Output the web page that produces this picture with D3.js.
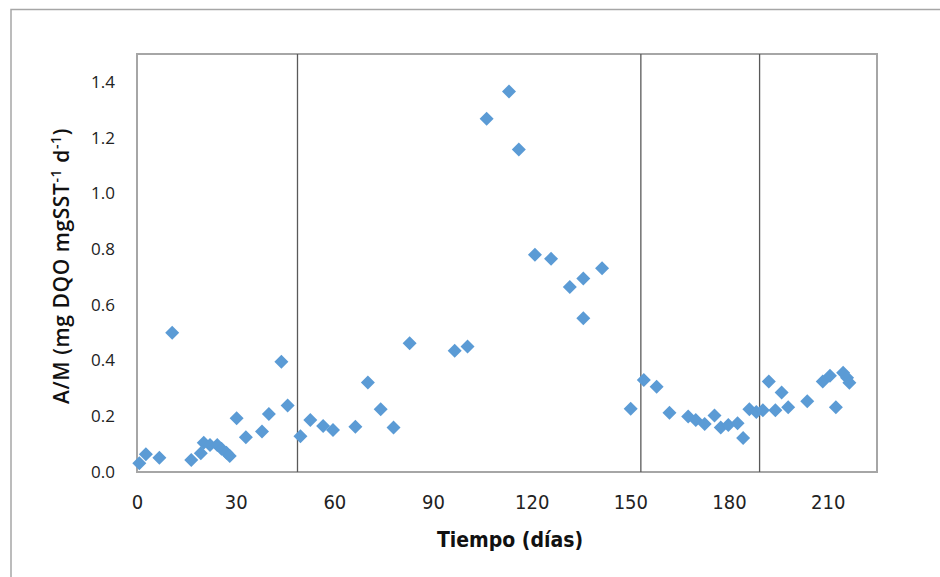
<!DOCTYPE html>
<html><head><meta charset="utf-8">
<script src="https://cdn.jsdelivr.net/npm/d3@7"></script>
<style>body{margin:0;background:#fff;} svg{display:block;}</style>
</head><body>
<script>
const days = [0.7,2.7,6.8,10.7,16.5,19.4,20.3,22.2,24.4,25.7,27.2,28.2,30.3,33.1,38,40.1,43.9,45.8,49.7,52.7,56.6,59.6,66.4,70.2,74.1,78,82.9,96.6,100.5,106.3,113.1,116.1,121,125.9,131.6,135.7,135.7,141.4,150.1,154.1,158,161.9,167.6,169.9,172.6,175.6,177.5,179.8,182.6,184.3,186.2,188.3,190.3,192.1,194.1,196,198,203.8,208.5,210.7,212.5,214.7,215.9,216.6];
const ratio = [0.031,0.064,0.051,0.50,0.043,0.067,0.105,0.097,0.097,0.083,0.069,0.057,0.193,0.125,0.145,0.208,0.396,0.239,0.128,0.187,0.165,0.151,0.162,0.321,0.225,0.160,0.462,0.435,0.45,1.268,1.365,1.157,0.78,0.765,0.664,0.694,0.552,0.731,0.227,0.330,0.306,0.213,0.199,0.187,0.172,0.203,0.160,0.169,0.175,0.122,0.225,0.215,0.222,0.325,0.222,0.285,0.232,0.254,0.325,0.345,0.232,0.356,0.338,0.32];
const xTicks = [0,30,60,90,120,150,180,210];
const yTicks = [0.0,0.2,0.4,0.6,0.8,1.0,1.2,1.4];
const phaseBoundaries = [48.8,153.2,189.3];

const W=940,H=577;
const m={left:137,right:877,top:54,bottom:472};
const svg=d3.select("body").append("svg").attr("width",W).attr("height",H);
svg.append("rect").attr("width",W).attr("height",H).attr("fill","#fff");
// outer frame
svg.append("path").attr("d",`M11,${H+2}V9.5H${W+2}`).attr("fill","none").attr("stroke","#a6a6a6").attr("stroke-width",1.5);

const x=d3.scaleLinear().domain([0,225]).range([m.left,m.right]);
const y=d3.scaleLinear().domain([0,1.5]).range([m.bottom,m.top]);

// plot border
svg.append("rect").attr("x",m.left).attr("y",m.top).attr("width",m.right-m.left).attr("height",m.bottom-m.top)
  .attr("fill","none").attr("stroke","#a6a6a6").attr("stroke-width",2);

// phase lines
svg.selectAll("line.phase").data(phaseBoundaries).enter().append("line").attr("class","phase")
  .attr("x1",d=>x(d)).attr("x2",d=>x(d)).attr("y1",m.top).attr("y2",m.bottom)
  .attr("stroke","#595959").attr("stroke-width",1.3);

// axes
const xa=svg.append("g").attr("transform",`translate(0,${m.bottom})`)
  .call(d3.axisBottom(x).tickValues(xTicks).tickSize(0).tickPadding(23).tickFormat(d3.format("d")));
xa.select(".domain").remove();
xa.selectAll("text").attr("font-family","'Liberation Sans Narrow','DejaVu Sans Condensed',sans-serif").attr("font-size",20).attr("fill","#222");

const ya=svg.append("g").attr("transform",`translate(${m.left},0)`)
  .call(d3.axisLeft(y).tickValues(yTicks).tickSize(0).tickPadding(22).tickFormat(d3.format(".1f")));
ya.select(".domain").remove();
ya.selectAll("text").attr("font-family","'Open Sans',sans-serif").attr("font-size",17).attr("fill","#222");

// points
const diamond=d3.symbol().type(d3.symbolSquare).size(98);
svg.append("g").selectAll("path").data(days.map((d,i)=>[d,ratio[i]])).enter().append("path")
  .attr("d",diamond).attr("transform",d=>`translate(${x(d[0])},${y(d[1])}) rotate(45)`)
  .attr("fill","#5b9bd5");

// titles
svg.append("text").attr("x",510).attr("y",547).attr("text-anchor","middle")
  .attr("font-family","'Liberation Sans Narrow','DejaVu Sans Condensed',sans-serif").attr("font-size",21).attr("font-weight","bold").attr("fill","#111")
  .text("Tiempo (días)");
const yt=svg.append("text").attr("transform","translate(69,266) rotate(-90)").attr("text-anchor","middle")
  .attr("font-family","'Open Sans',sans-serif").attr("font-size",21).attr("font-weight","600").attr("letter-spacing",0.6).attr("fill","#111");
yt.append("tspan").text("A/M (mg DQO mgSST");
yt.append("tspan").attr("dy",-8).attr("font-size",14).text("-1");
yt.append("tspan").attr("dy",8).text(" d");
yt.append("tspan").attr("dy",-8).attr("font-size",14).text("-1");
yt.append("tspan").attr("dy",8).text(")");
</script>
</body></html>
